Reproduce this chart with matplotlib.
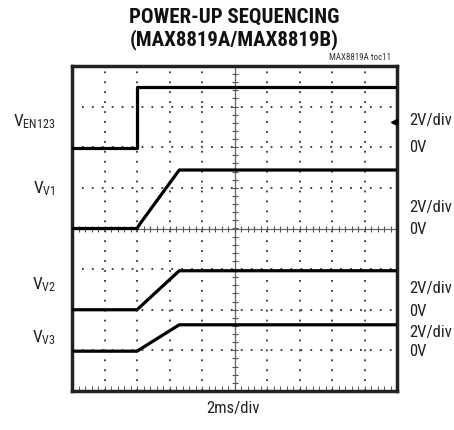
import numpy as np
import matplotlib
matplotlib.use('Agg')
import matplotlib.pyplot as plt

plt.rcParams['font.family'] = ['Liberation Sans Narrow', 'Roboto Condensed', 'Roboto', 'DejaVu Sans']
plt.rcParams['mathtext.fontset'] = 'custom'
plt.rcParams['mathtext.rm'] = 'Roboto Condensed'
plt.rcParams['mathtext.it'] = 'Roboto Condensed'

# time breakpoints in ms (2ms/div), voltages in V (2V/div)
en_t = [0, 4.0, 4.0, 20]
en_v = [0, 0, 3.0, 3.0]
v1_t = [0, 4.0, 4.2, 6.6, 20]
v1_v = [0, 0, 0.25, 2.88, 2.88]
v2_t = [0, 4.0, 6.6, 20]
v2_v = [0, 0, 1.92, 1.92]
v3_t = [0, 4.0, 6.6, 20]
v3_v = [0, 0, 1.3, 1.3]

# screen position of each channel's 0V level (divisions from center)
channels = ['V$_{\\mathrm{EN123}}$', 'V$_{\\mathrm{V1}}$', 'V$_{\\mathrm{V2}}$', 'V$_{\\mathrm{V3}}$']
offsets = [1.98, 0.0, -2.0, -3.02]
label_y = [122, 189, 285, 338]
scale_y = [[120, 147], [208, 230], [289, 312], [333, 352]]

fig = plt.figure(figsize=(4.54, 4.31), dpi=100)
W, H = 454, 431
ax = fig.add_axes([72 / W, 1 - 392 / H, 325 / W, 325 / H])
ax.set_xlim(0, 20)
ax.set_ylim(-4, 4)

# dotted graticule
for gx in np.arange(2, 20, 2):
    if gx == 10:
        continue
    ax.plot([gx, gx], [-4, 4], color='#333333', lw=1.3, ls=(0, (1, 4.5)), zorder=1)
for gy in np.arange(-3, 4, 1):
    if gy == 0:
        continue
    ax.plot([0, 20], [gy, gy], color='#333333', lw=1.3, ls=(0, (1, 4.5)), zorder=1)

# center cross with small ticks
ax.axvline(10, color='#666666', lw=0.9, zorder=1)
ax.axhline(0, color='#666666', lw=0.9, zorder=1)
tx = np.arange(0, 20.01, 0.4)
ty = np.arange(-4, 4.01, 0.2)
ax.plot(tx, np.zeros_like(tx), ls='none', marker='|', ms=4, mew=0.8, color='#555555', zorder=1)
ax.plot(np.full_like(ty, 10), ty, ls='none', marker='_', ms=5, mew=0.8, color='#555555', zorder=1)

# bottom edge minor ticks
ax.plot(tx, np.full_like(tx, -3.93), ls='none', marker='|', ms=3, mew=0.7, color='#555555', zorder=1)

# traces
for t, v, off in zip([en_t, v1_t, v2_t, v3_t], [en_v, v1_v, v2_v, v3_v], offsets):
    ax.plot(t, np.array(v) / 2.0 + off, color='black', lw=2.3, zorder=3)

# ground marker at right edge for EN channel
ax.plot([19.8], [2.63], marker='<', color='black', ms=4, clip_on=False, zorder=4)

ax.set_xticks([])
ax.set_yticks([])
for s in ax.spines.values():
    s.set_linewidth(2.5)
    s.set_color('#222222')

# title and annotations
fig.text(234 / W, 1 - 17 / H, 'POWER-UP SEQUENCING', ha='center', va='center',
         fontsize=15, fontweight='bold', color='#111111')
fig.text(234 / W, 1 - 40 / H, '(MAX8819A/MAX8819B)', ha='center', va='center',
         fontsize=15, fontweight='bold', color='#111111')
fig.text(391 / W, 1 - 58 / H, 'MAX8819A toc11', ha='right', va='center',
         fontsize=6.5, color='#333333')
fig.text(233 / W, 1 - 409 / H, '2ms/div', ha='center', va='center', fontsize=12, color='#222222')

for name, ly, (sy, zy) in zip(channels, label_y, scale_y):
    fig.text(56 / W, 1 - ly / H, name, ha='right', va='center', fontsize=12.5, color='#222222')
    fig.text(409 / W, 1 - sy / H, '2V/div', ha='left', va='center', fontsize=12, color='#222222')
    fig.text(409 / W, 1 - zy / H, '0V', ha='left', va='center', fontsize=12, color='#222222')

fig.savefig('out.png', dpi=100)
